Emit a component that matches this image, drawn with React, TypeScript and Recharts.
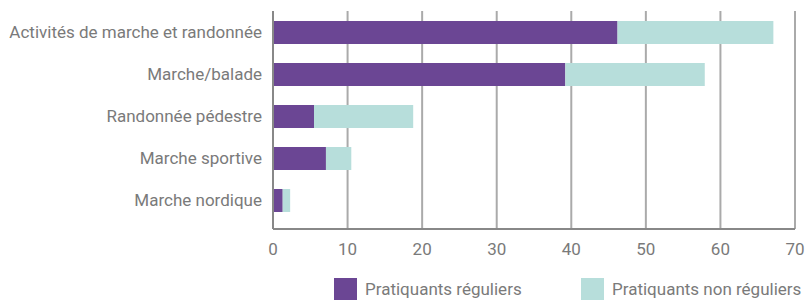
import React from "react";
import { BarChart, Bar, XAxis, YAxis, CartesianGrid, Legend } from "recharts";

const categories = [
  "Activités de marche et randonnée",
  "Marche/balade",
  "Randonnée pédestre",
  "Marche sportive",
  "Marche nordique",
];
const reguliers = [46.2, 39.2, 5.5, 7.1, 1.3];
const nonReguliers = [20.9, 18.7, 13.3, 3.4, 1.0];
const xTicks = [0, 10, 20, 30, 40, 50, 60, 70];
const seriesNames = ["Pratiquants réguliers", "Pratiquants non réguliers"];
const colors = ["#6B4694", "#B7DEDB"];

const data = categories.map((c, i) => ({
  name: c,
  reg: reguliers[i],
  nonreg: nonReguliers[i],
}));

const FONT = "Roboto, 'Noto Sans', sans-serif";
const TEXT = "#7a7a7a";

const LegendContent = () => (
  <div style={{ position: "relative", height: 22, fontFamily: FONT, fontSize: 17, color: TEXT }}>
    {seriesNames.map((n, i) => (
      <div
        key={n}
        style={{
          position: "absolute",
          left: i === 0 ? 334 : 581,
          top: 0,
          display: "flex",
          alignItems: "center",
          height: 22,
          whiteSpace: "nowrap",
        }}
      >
        <span style={{ display: "inline-block", width: 23, height: 22, background: colors[i], marginRight: 8 }} />
        <span>{n}</span>
      </div>
    ))}
  </div>
);

export default function App() {
  return (
    <div style={{ position: "absolute", left: 0, top: 0, width: 805, height: 300, background: "#fff" }}>
      <BarChart
        width={805}
        height={300}
        data={data}
        layout="vertical"
        margin={{ top: 11, right: 10, bottom: 0, left: 0 }}
        barSize={23}
      >
        <CartesianGrid horizontal={false} vertical={true} stroke="#aaa" strokeWidth={2} />
        <XAxis
          type="number"
          domain={[0, 70]}
          ticks={xTicks}
          tickLine={false}
          axisLine={{ stroke: "#888", strokeWidth: 2 }}
          tick={{ fill: TEXT, fontSize: 17, fontFamily: FONT }}
          tickMargin={8}
          height={49}
          interval={0}
        />
        <YAxis
          type="category"
          dataKey="name"
          width={273}
          tickLine={false}
          axisLine={{ stroke: "#888", strokeWidth: 2 }}
          tick={{ fill: TEXT, fontSize: 17, fontFamily: FONT }}
          tickMargin={5}
          padding={{ top: 0, bottom: 8 }}
          interval={0}
        />
        <Legend verticalAlign="bottom" content={<LegendContent />} wrapperStyle={{ left: 0, width: 805 }} />
        <Bar dataKey="reg" stackId="a" fill={colors[0]} isAnimationActive={false} name={seriesNames[0]} />
        <Bar dataKey="nonreg" stackId="a" fill={colors[1]} isAnimationActive={false} name={seriesNames[1]} />
      </BarChart>
    </div>
  );
}
